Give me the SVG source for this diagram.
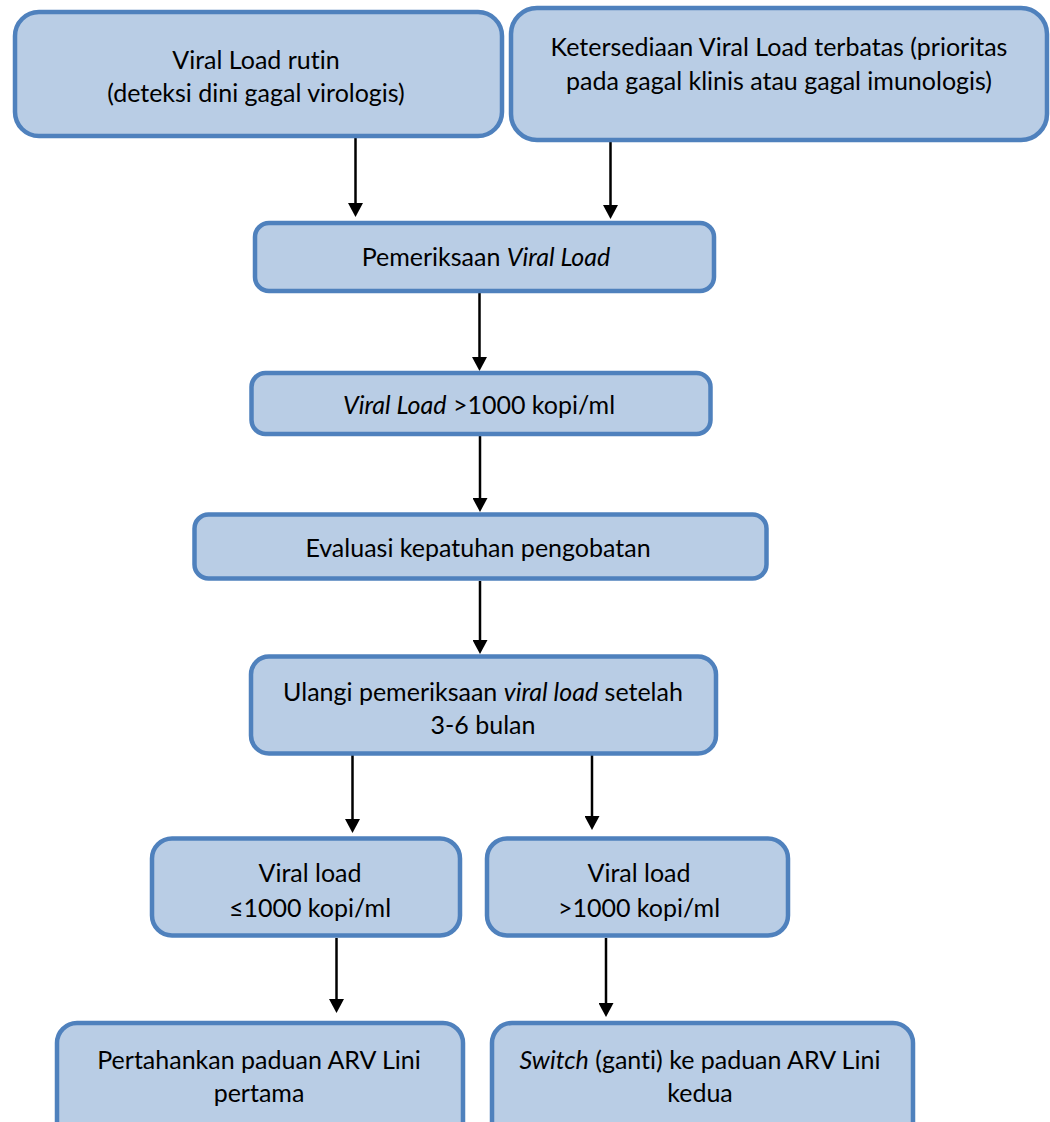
<svg xmlns="http://www.w3.org/2000/svg" width="1050" height="1122" viewBox="0 0 1050 1122">
<style>
.box{fill:#B9CDE5;stroke:#4F81BD;stroke-width:4.5}
.t{font-family:Lato,"Liberation Sans",sans-serif;font-size:25px;fill:#000;text-anchor:middle;font-variant-ligatures:none;font-feature-settings:"liga" 0,"clig" 0}
.i{font-style:italic}
.c{stroke:#000;stroke-width:2.5;fill:none;marker-end:url(#ah)}
</style>
<defs>
<marker id="ah" viewBox="0 0 14 15" refX="0" refY="7.5" markerWidth="14" markerHeight="15" markerUnits="userSpaceOnUse" orient="auto">
<path d="M0,0 L14,7.5 L0,15 z" fill="#000"/>
</marker>
</defs>
<rect width="1050" height="1122" fill="#fff"/>
<g id="connectors">
<line class="c" x1="355.5" y1="138" x2="355.5" y2="203"/>
<line class="c" x1="610.5" y1="142" x2="610.5" y2="205"/>
<line class="c" x1="479.5" y1="293" x2="479.5" y2="357"/>
<line class="c" x1="480" y1="436" x2="480" y2="498"/>
<line class="c" x1="480" y1="581" x2="480" y2="640"/>
<line class="c" x1="352.5" y1="755" x2="352.5" y2="819"/>
<line class="c" x1="592" y1="754" x2="592" y2="816"/>
<line class="c" x1="336.5" y1="938" x2="336.5" y2="999"/>
<line class="c" x1="606" y1="938" x2="606" y2="1003"/>
</g>
<g id="n1">
<rect class="box" x="15" y="12" width="487" height="124" rx="24"/>
<text class="t" x="256" y="69">Viral Load rutin</text>
<text class="t" x="256" y="102">(deteksi dini gagal virologis)</text>
</g>
<g id="n2">
<rect class="box" x="511" y="8" width="536" height="132" rx="26"/>
<text class="t" x="779" y="56">Ketersediaan Viral Load terbatas (prioritas</text>
<text class="t" x="779" y="90">pada gagal klinis atau gagal imunologis)</text>
</g>
<g id="n3">
<rect class="box" x="255" y="223" width="459" height="68" rx="14"/>
<text class="t" x="486" y="266">Pemeriksaan <tspan class="i">Viral Load</tspan></text>
</g>
<g id="n4">
<rect class="box" x="251.5" y="373" width="459" height="61" rx="14"/>
<text class="t" x="479" y="414"><tspan class="i">Viral Load</tspan> &gt;1000 kopi/ml</text>
</g>
<g id="n5">
<rect class="box" x="194.5" y="514.5" width="572" height="64" rx="14"/>
<text class="t" x="478" y="557">Evaluasi kepatuhan pengobatan</text>
</g>
<g id="n6">
<rect class="box" x="251" y="656.5" width="465" height="97" rx="18"/>
<text class="t" x="483" y="701">Ulangi pemeriksaan <tspan class="i">viral load</tspan> setelah</text>
<text class="t" x="483" y="734">3-6 bulan</text>
</g>
<g id="n7">
<rect class="box" x="152" y="838.5" width="308" height="97" rx="20"/>
<text class="t" x="310" y="882">Viral load</text>
<text class="t" x="310" y="917">≤1000 kopi/ml</text>
</g>
<g id="n8">
<rect class="box" x="487" y="838.5" width="301" height="97" rx="20"/>
<text class="t" x="639" y="882">Viral load</text>
<text class="t" x="639" y="917">&gt;1000 kopi/ml</text>
</g>
<g id="n9">
<rect class="box" x="57" y="1023" width="406" height="130" rx="20"/>
<text class="t" x="259" y="1069">Pertahankan paduan ARV Lini</text>
<text class="t" x="259" y="1102">pertama</text>
</g>
<g id="n10">
<rect class="box" x="492" y="1023" width="421" height="130" rx="20"/>
<text class="t" x="700" y="1069"><tspan class="i">Switch</tspan> (ganti) ke paduan ARV Lini</text>
<text class="t" x="700" y="1102">kedua</text>
</g>
</svg>
